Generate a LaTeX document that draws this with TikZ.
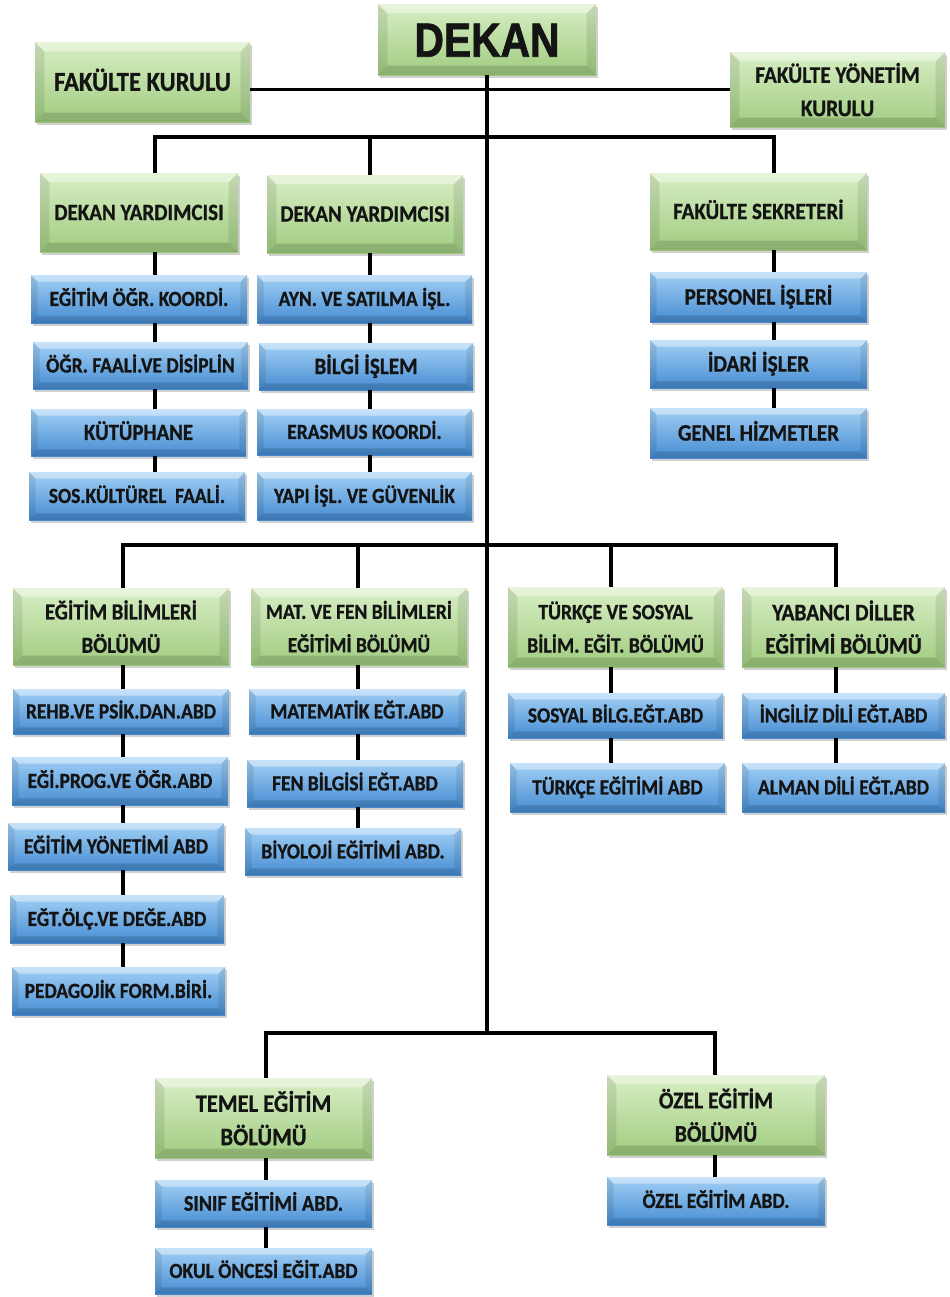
\documentclass[tikz,border=0pt]{standalone}
\usepackage{fontspec}
\setmainfont{Carlito}[FakeStretch=0.9,BoldFeatures={FakeBold=0.8}]
\newfontfamily\dekanfont{Liberation Sans}[FakeStretch=0.85,BoldFeatures={FakeBold=1.5}]
\usetikzlibrary{shadows}
\definecolor{gtop}{RGB}{216,238,196}
\definecolor{gbot}{RGB}{160,204,128}
\definecolor{btop}{RGB}{162,208,245}
\definecolor{bbot}{RGB}{70,140,210}
\definecolor{txt}{RGB}{20,20,20}
\tikzset{
 bevel/.style={path picture={
   \fill[white,opacity=.4] (path picture bounding box.north west) -- (path picture bounding box.north east) -- ([xshift=-#1,yshift=-#1]path picture bounding box.north east) -- ([xshift=#1,yshift=-#1]path picture bounding box.north west) -- cycle;
   \fill[black,opacity=.14] (path picture bounding box.south west) -- (path picture bounding box.south east) -- ([xshift=-#1,yshift=#1]path picture bounding box.south east) -- ([xshift=#1,yshift=#1]path picture bounding box.south west) -- cycle;
   \fill[black,opacity=.09] (path picture bounding box.north west) -- (path picture bounding box.south west) -- ([xshift=#1,yshift=#1]path picture bounding box.south west) -- ([xshift=#1,yshift=-#1]path picture bounding box.north west) -- cycle;
   \fill[black,opacity=.09] (path picture bounding box.north east) -- (path picture bounding box.south east) -- ([xshift=-#1,yshift=#1]path picture bounding box.south east) -- ([xshift=-#1,yshift=-#1]path picture bounding box.north east) -- cycle;
 }},
 box/.style={inner sep=0pt, outer sep=0pt, text=txt,
   drop shadow={shadow xshift=1.5pt, shadow yshift=-2pt, opacity=.3, fill=black!60}},
 gfill/.style={top color=gtop, bottom color=gbot, bevel=7pt},
 bfill/.style={top color=btop, bottom color=bbot, bevel=5pt},
 one/.code={\pgfmathsetmacro\capht{0.644*#1}\tikzset{font=\bfseries\fontsize{#1}{#1}\selectfont, text height=\capht pt, text depth=0pt}},
 two/.style={align=center, font=\bfseries\fontsize{#1}{25}\selectfont, text depth=0pt},
 g/.style={gfill,one=#1}, g/.default=17.5,
 gt/.style={gfill,two=#1},
 b/.style={bfill,one=#1}, b/.default=16.2,
 conn/.style={line width=2.4pt, black},
}
\newcommand\bx[7]{\node[box,#2,minimum width={(#5-#3)*0.75pt},minimum height={(#6-#4)*0.75pt}] (#1) at ({(#3+#5)/2},{(#4+#6)/2}) {#7};}
\begin{document}
\begin{tikzpicture}[x=0.75pt,y=-0.75pt]
\fill[white] (0,0) rectangle (950,1297);
\useasboundingbox (0,0) rectangle (950,1297);
% top
\bx{dekan}{gfill,font=\dekanfont\bfseries\fontsize{36}{36}\selectfont,text height=25.8pt,text depth=0pt}{378}{4}{596}{75}{DEKAN}
\bx{fk}{g=20.5}{35}{42}{250}{122}{FAKÜLTE KURULU}
\bx{fyk}{gt=17.8}{730}{52}{945}{127}{FAKÜLTE YÖNETİM\\KURULU}
\bx{dy1}{g}{40}{173}{238}{252}{DEKAN YARDIMCISI}
\bx{dy2}{g}{267}{175}{463}{253}{DEKAN YARDIMCISI}
\bx{fs}{g}{650}{173}{867}{250}{FAKÜLTE SEKRETERİ}
% column 1
\bx{b11}{b}{31}{275}{247}{323}{EĞİTİM ÖĞR. KOORDİ.}
\bx{b12}{b}{33}{342}{248}{389}{ÖĞR. FAALİ.VE DİSİPLİN}
\bx{b13}{b=17.3}{31}{409}{246}{456}{KÜTÜPHANE}
\bx{b14}{b}{29}{472}{245}{520}{SOS.KÜLTÜREL\ \ FAALİ.}
% column 2
\bx{b21}{b}{257}{275}{472}{323}{AYN. VE SATILMA İŞL.}
\bx{b22}{b=17.6}{259}{343}{473}{390}{BİLGİ İŞLEM}
\bx{b23}{b}{257}{409}{472}{455}{ERASMUS KOORDİ.}
\bx{b24}{b}{257}{472}{472}{520}{YAPI İŞL. VE GÜVENLİK}
% column 3
\bx{b31}{b=17.6}{650}{272}{867}{322}{PERSONEL İŞLERİ}
\bx{b32}{b=17.8}{650}{340}{867}{388}{İDARİ İŞLER}
\bx{b33}{b=17.6}{650}{408}{867}{458}{GENEL HİZMETLER}
% departments
\bx{ebb}{gt=17.2}{13}{588}{229}{665}{EĞİTİM BİLİMLERİ\\BÖLÜMÜ}
\bx{e1}{b}{13}{689}{229}{734}{REHB.VE PSİK.DAN.ABD}
\bx{e2}{b}{12}{757}{228}{805}{EĞİ.PROG.VE ÖĞR.ABD}
\bx{e3}{b}{8}{823}{224}{870}{EĞİTİM YÖNETİMİ ABD}
\bx{e4}{b}{10}{895}{224}{943}{EĞT.ÖLÇ.VE DEĞE.ABD}
\bx{e5}{b}{12}{967}{225}{1015}{PEDAGOJİK FORM.BİRİ.}
\bx{mfb}{gt=16.2}{251}{588}{467}{665}{MAT. VE FEN BİLİMLERİ\\EĞİTİMİ BÖLÜMÜ}
\bx{m1}{b}{249}{689}{465}{734}{MATEMATİK EĞT.ABD}
\bx{m2}{b}{247}{760}{463}{807}{FEN BİLGİSİ EĞT.ABD}
\bx{m3}{b}{245}{828}{461}{875}{BİYOLOJİ EĞİTİMİ ABD.}
\bx{tsb}{gt=16.4}{508}{587}{723}{667}{TÜRKÇE VE SOSYAL\\BİLİM. EĞİT. BÖLÜMÜ}
\bx{t1}{b}{508}{693}{723}{738}{SOSYAL BİLG.EĞT.ABD}
\bx{t2}{b}{510}{763}{725}{812}{TÜRKÇE EĞİTİMİ ABD}
\bx{ydb}{gt=17.8}{742}{587}{945}{667}{YABANCI DİLLER\\EĞİTİMİ BÖLÜMÜ}
\bx{y1}{b}{742}{693}{945}{738}{İNGİLİZ DİLİ EĞT.ABD}
\bx{y2}{b}{742}{763}{945}{812}{ALMAN DİLİ EĞT.ABD}
\bx{teb}{gt=18.8}{155}{1078}{372}{1158}{TEMEL EĞİTİM\\BÖLÜMÜ}
\bx{s1}{b=16.8}{155}{1180}{372}{1227}{SINIF EĞİTİMİ ABD.}
\bx{s2}{b}{155}{1248}{372}{1294}{OKUL ÖNCESİ EĞİT.ABD}
\bx{oeb}{gt=18}{607}{1075}{825}{1155}{ÖZEL EĞİTİM\\BÖLÜMÜ}
\bx{o1}{b}{607}{1177}{825}{1225}{ÖZEL EĞİTİM ABD.}
% junction coordinates
\coordinate (bus1) at (487,137);
\coordinate (bus2) at (487,545);
\coordinate (bus3) at (487,1033);
\coordinate (cA) at (155,0);
\coordinate (cB) at (370,0);
\coordinate (cC) at (774,0);
\coordinate (cD) at (123,0);
\coordinate (cE) at (358,0);
\coordinate (cF) at (611,0);
\coordinate (cG) at (836,0);
\coordinate (cH) at (266,0);
\coordinate (cI) at (715,0);
% connectors
\draw[conn] (dekan.south) -- (bus3);
\draw[conn] (fk.east |- fyk.west) -- (fyk.west);
\draw[conn,line join=miter] (cA |- dy1.north) -- (cA |- bus1) -- (cC |- bus1) -- (cC |- fs.north);
\draw[conn] (cB |- dy2.north) -- (cB |- bus1);
\draw[conn,line join=miter] (cD |- ebb.north) -- (cD |- bus2) -- (cG |- bus2) -- (cG |- ydb.north);
\draw[conn] (cE |- mfb.north) -- (cE |- bus2);
\draw[conn] (cF |- tsb.north) -- (cF |- bus2);
\draw[conn,line join=miter] (cH |- teb.north) -- (cH |- bus3) -- (cI |- bus3) -- (cI |- oeb.north);
\foreach \a/\b/\c in {dy1/b11/cA,b11/b12/cA,b12/b13/cA,b13/b14/cA,
  dy2/b21/cB,b21/b22/cB,b22/b23/cB,b23/b24/cB,
  fs/b31/cC,b31/b32/cC,b32/b33/cC,
  ebb/e1/cD,e1/e2/cD,e2/e3/cD,e3/e4/cD,e4/e5/cD,
  mfb/m1/cE,m1/m2/cE,m2/m3/cE,
  tsb/t1/cF,t1/t2/cF,
  ydb/y1/cG,y1/y2/cG,
  teb/s1/cH,s1/s2/cH,
  oeb/o1/cI}
  \draw[conn] (\c |- \a.south) -- (\c |- \b.north);
\end{tikzpicture}
\end{document}
